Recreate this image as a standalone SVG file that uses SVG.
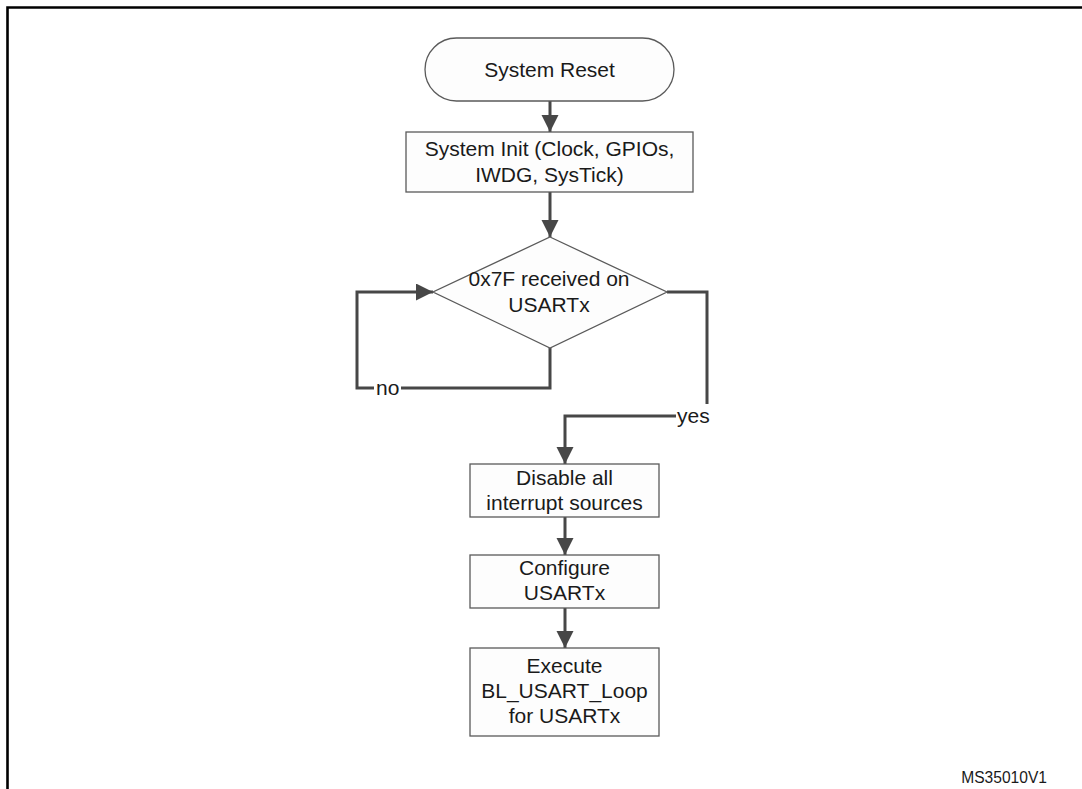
<svg xmlns="http://www.w3.org/2000/svg" width="1082" height="789" viewBox="0 0 1082 789">
<defs>
<style>
.node{fill:#fdfdfd;stroke:#5a5a5a;stroke-width:1.3}
.t{font-family:"Liberation Sans",Arial,sans-serif;font-size:21px;fill:#1a1a1a;text-anchor:middle}
.lbl{font-family:"Liberation Sans",Arial,sans-serif;font-size:21px;fill:#1a1a1a}
.c{fill:none;stroke:#474747;stroke-width:3}
.frame{fill:none;stroke:#000;stroke-width:2.6}
</style>
<marker id="ah" markerUnits="userSpaceOnUse" markerWidth="18" markerHeight="18" refX="17" refY="8.5" orient="auto">
<path d="M0,0 L17,8.5 L0,17 Z" fill="#474747"/>
</marker>
</defs>
<rect width="1082" height="789" fill="#fff"/>
<path class="frame" d="M7.5,789 V7.5 H1082"/>
<g id="connectors">
<path class="c" d="M550,101 V132" marker-end="url(#ah)"/>
<path class="c" d="M550,192 V237" marker-end="url(#ah)"/>
<path class="c" d="M550,348 V388 H357 V292 H433" marker-end="url(#ah)"/>
<path class="c" d="M667,292 H707 V416 H565 V464" marker-end="url(#ah)"/>
<path class="c" d="M565,517 V555" marker-end="url(#ah)"/>
<path class="c" d="M565,608 V648" marker-end="url(#ah)"/>
<rect x="374" y="378" width="27" height="20" fill="#fff"/>
<text class="lbl" x="376" y="395">no</text>
<rect x="676" y="404" width="35" height="22" fill="#fff"/>
<text class="lbl" x="677" y="423">yes</text>
</g>
<g id="reset">
<rect class="node" x="425" y="38" width="249" height="63" rx="31.5"/>
<text class="t" x="549.5" y="77">System Reset</text>
</g>
<g id="init">
<rect class="node" x="406" y="132" width="287" height="60"/>
<text class="t" x="549.5" y="156">System Init (Clock, GPIOs,</text>
<text class="t" x="549.5" y="182">IWDG, SysTick)</text>
</g>
<g id="decision">
<path class="node" d="M550,237 L667,292 L550,348 L433,292 Z"/>
<text class="t" x="549" y="286">0x7F received on</text>
<text class="t" x="549" y="312">USARTx</text>
</g>
<g id="disable">
<rect class="node" x="470" y="464" width="189" height="53"/>
<text class="t" x="564.5" y="485">Disable all</text>
<text class="t" x="564.5" y="510">interrupt sources</text>
</g>
<g id="configure">
<rect class="node" x="470" y="555" width="189" height="53"/>
<text class="t" x="564.5" y="575">Configure</text>
<text class="t" x="564.5" y="600">USARTx</text>
</g>
<g id="execute">
<rect class="node" x="470" y="648" width="189" height="88"/>
<text class="t" x="564.5" y="673">Execute</text>
<text class="t" x="564.5" y="698">BL_USART_Loop</text>
<text class="t" x="564.5" y="723">for USARTx</text>
</g>
<text x="1047" y="783" font-family="Liberation Sans, Arial, sans-serif" font-size="15.6" fill="#1a1a1a" text-anchor="end">MS35010V1</text>
</svg>
